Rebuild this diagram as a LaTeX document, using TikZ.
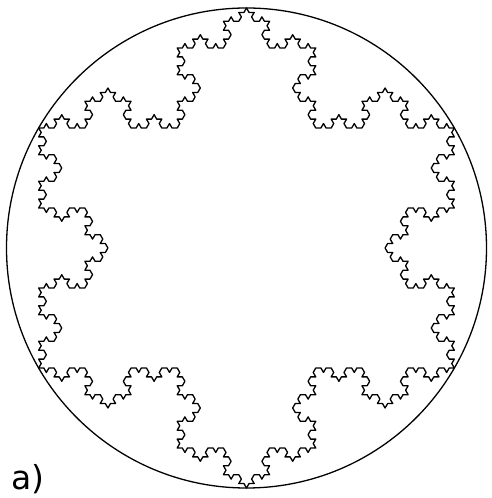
\documentclass[tikz,border=0pt]{standalone}
\usepackage{fontspec}
\setmainfont{DejaVu Sans}
\usetikzlibrary{lindenmayersystems}
\pgfdeclarelindenmayersystem{KochFlake}{\rule{F -> F-F++F-F}}
\begin{document}
\begin{tikzpicture}[x=1pt,y=1pt,
  flake/.style={line width=1.3pt, line join=round},
  rim/.style={line width=1.3pt}]
\useasboundingbox (0,0) rectangle (491,498);
\node[rim,draw,circle,minimum size=480pt,inner sep=0pt] (ring) at (246.5,250) {};
\begin{scope}[shift={(38.65,130)}]
\draw[flake,lindenmayer system={KochFlake, axiom=F++F++F, order=4, step=5.1320pt, angle=60}]
  lindenmayer system -- cycle;
\end{scope}
\node[font=\fontsize{33}{33}\selectfont, anchor=base west, inner sep=0pt] (lbl) at (11,9) {a)};
\end{tikzpicture}
\end{document}
